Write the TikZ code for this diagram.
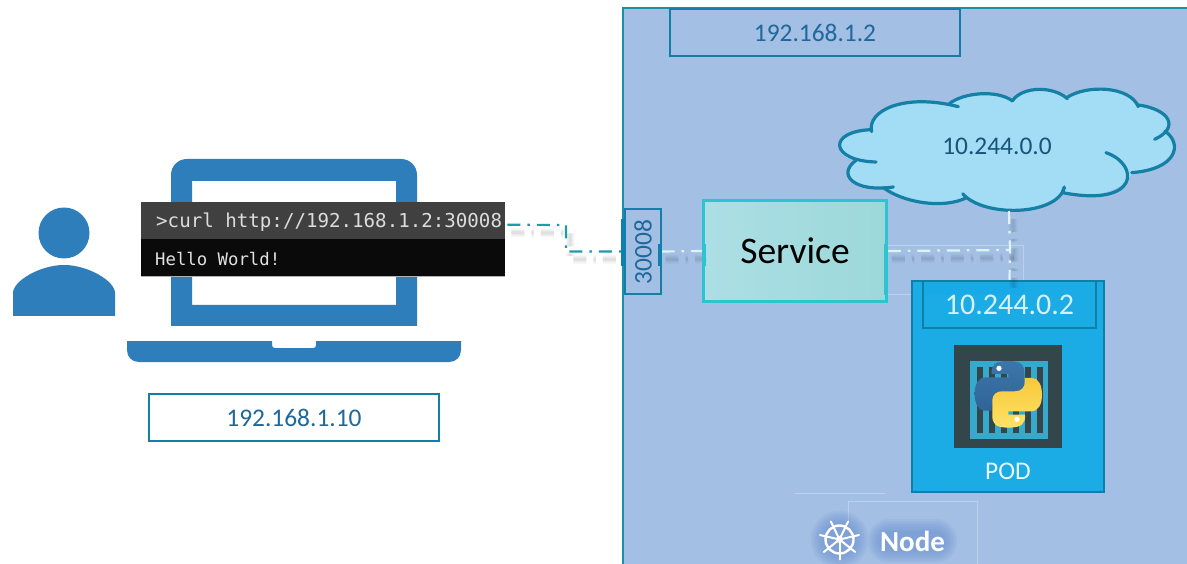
\documentclass[tikz,border=0pt]{standalone}
\usepackage{fontspec}
\setmainfont{Carlito}
\newfontfamily\termfont{DejaVu Sans Mono}
\usetikzlibrary{calc}
\definecolor{areablue}{HTML}{A3BFE4}
\definecolor{edgeteal}{HTML}{1C8FA8}
\definecolor{boxedge}{HTML}{137FA6}
\definecolor{iptext}{HTML}{1F689B}
\definecolor{lapblue}{HTML}{2E7EBB}
\definecolor{podblue}{HTML}{1BABE5}
\definecolor{podedge}{HTML}{0E80A8}
\definecolor{cloudfill}{HTML}{A3DDF5}
\definecolor{cloudedge}{HTML}{1580A6}
\definecolor{svcedge}{HTML}{2CC4CF}
\definecolor{handle}{HTML}{0F7FAE}
\definecolor{lineteal}{HTML}{1C9CA8}
\definecolor{linepale}{HTML}{DDF4F4}
\definecolor{ctrdark}{HTML}{33464C}
\definecolor{ctrteal}{HTML}{36A9CC}
\definecolor{glowblue}{HTML}{5F86CC}
\definecolor{termtop}{HTML}{404040}
\definecolor{termlow}{HTML}{0A0A0A}
\tikzset{
  ipbox/.style={draw=boxedge,line width=2pt,inner sep=0pt,text=iptext,font=\fontsize{25.4}{30}\selectfont},
  softshadow/.style={
    preaction={draw=black,opacity=.03,line width=9pt,dash pattern=on 13pt off 7pt on 2.5pt off 7pt,transform canvas={shift={(4pt,-8pt)}}},
    preaction={draw=black,opacity=.04,line width=6pt,dash pattern=on 13pt off 7pt on 2.5pt off 7pt,transform canvas={shift={(4pt,-8pt)}}},
    preaction={draw=black,opacity=.05,line width=3pt,dash pattern=on 13pt off 7pt on 2.5pt off 7pt,transform canvas={shift={(4pt,-8pt)}}}},
  dashline/.style={softshadow,line width=2.2pt,dash pattern=on 13pt off 7pt on 2.5pt off 7pt},
  faint/.style={draw=white,opacity=.28,line width=.8pt},
  glow/.style={fill=glowblue,opacity=.09,draw=none},
  cloudline/.style={draw=cloudedge,line width=3.2pt,line cap=round},
}
\begin{document}
\begin{tikzpicture}[x=1pt,y=-1pt]
\useasboundingbox (0,0) rectangle (1187,564);
\fill[white] (0,0) rectangle (1187,564);
% user
\fill[lapblue] (64,233) circle[radius=25.5];
\fill[lapblue] (13,316) -- (13,293) .. controls (13,281) and (40,265) .. (64,265) .. controls (88,265) and (115,281) .. (115,293) -- (115,316) -- cycle;
% laptop
\fill[lapblue,even odd rule] (171,326) -- (171,175) .. controls (171,166) and (178,159) .. (187,159) -- (401,159) .. controls (410,159) and (417,166) .. (417,175) -- (417,326) -- cycle
  (192,181) rectangle (396,305);
\fill[lapblue] (127,341) -- (272,341) -- (272,345) .. controls (272,347) and (273,348) .. (275,348) -- (313,348) .. controls (315,348) and (316,347) .. (316,345) -- (316,341) -- (461,341) -- (461,350) .. controls (461,357) and (456,362) .. (449,362) -- (139,362) .. controls (132,362) and (127,357) .. (127,350) -- cycle;
% terminal
\fill[black!30] (141,276) rectangle (505,277.5);
\node[fill=termlow,inner sep=0pt,minimum width=364pt,minimum height=37pt,anchor=north west] (term2) at (141,239) {};
\node[fill=termtop,inner sep=0pt,minimum width=364pt,minimum height=37pt,anchor=north west] (term1) at (141,202) {};
\node[anchor=west,inner sep=0pt,text={rgb,255:red,220;green,220;blue,220},font=\termfont\fontsize{19.15}{23}\selectfont] (curltext) at (156,222) {>curl http://192.168.1.2:30008};
\node[anchor=west,inner sep=0pt,text={rgb,255:red,225;green,225;blue,225},font=\termfont\fontsize{17.3}{21}\selectfont] (hello) at (155,259) {Hello World!};
% client ip
\node[ipbox,minimum width=290pt,minimum height=47pt] (clientip) at (294,417.5) {192.168.1.10};
% node area
\fill[areablue] (622,8) rectangle (1187,564);
\draw[edgeteal,line width=2pt] (1187,8.5) -- (622.5,8.5) -- (622.5,564);
\node[ipbox,minimum width=290pt,minimum height=47pt] (nodeip) at (815,32.5) {192.168.1.2};
% faint artefacts
\draw[faint] (887,245) rectangle (1023,294);
\draw[faint] (795,493) -- (885,493);
\draw[faint] (848,522) -- (848,501) -- (977,501) -- (977,564);
% cloud
\begin{scope}[shift={(820,81)},x=.3333pt,y=-.3333pt]
\fill[cloudfill] (155,150) .. controls (140,90) and (250,40) .. (390,68)
  .. controls (430,35) and (530,25) .. (578,58)
  .. controls (610,15) and (700,15) .. (742,50)
  .. controls (800,10) and (930,15) .. (955,75)
  .. controls (1020,85) and (1070,125) .. (1035,150)
  .. controls (1090,190) and (1070,265) .. (935,275)
  .. controls (925,325) and (810,360) .. (730,335)
  .. controls (690,405) and (500,410) .. (440,350)
  .. controls (370,380) and (250,360) .. (195,320)
  .. controls (110,335) and (50,280) .. (108,238)
  .. controls (40,230) and (30,160) .. (155,150) -- cycle;
\draw[cloudline] (155,152) .. controls (140,90) and (250,35) .. (415,77);
\draw[cloudline] (388,68) .. controls (430,35) and (530,25) .. (578,60);
\draw[cloudline] (578,58) .. controls (610,15) and (700,15) .. (742,53);
\draw[cloudline] (740,50) .. controls (800,10) and (930,15) .. (955,77);
\draw[cloudline] (955,72) .. controls (1050,85) and (1080,140) .. (1004,175);
\draw[cloudline] (1035,150) .. controls (1090,190) and (1070,265) .. (935,275);
\draw[cloudline] (858,215) .. controls (960,250) and (960,380) .. (728,335) -- (733,318);
\draw[cloudline] (733,320) .. controls (710,405) and (490,410) .. (428,338);
\draw[cloudline] (440,350) .. controls (370,385) and (250,365) .. (190,320);
\draw[cloudline] (220,318) .. controls (100,335) and (50,280) .. (108,238);
\draw[cloudline] (168,243) .. controls (30,240) and (20,150) .. (155,146);
\end{scope}
\node[text={rgb,255:red,22;green,84;blue,120},inner sep=0pt,font=\fontsize{25.4}{30}\selectfont] (cloudlabel) at (997,146) {10.244.0.0};
\coordinate (cloudbottom) at (1009,211);
% pod
\node[fill=podblue,draw=podedge,line width=2.5pt,minimum width=192pt,minimum height=211pt,inner sep=0pt] (pod) at (1008,386.5) {};
\fill[blue!40!cyan,opacity=.10] (923,281) rectangle (1024,295);
\node[fill=none,draw=podedge,line width=2.5pt,minimum width=173pt,minimum height=47pt,inner sep=0pt,text={rgb,255:red,214;green,241;blue,249},font=\fontsize{30}{34}\selectfont] (podip) at (1009.5,304.5) {10.244.0.2};
\node[fill=ctrdark,minimum width=108pt,minimum height=103pt,inner sep=0pt] (container) at (1008,396.5) {};
\node[fill=ctrteal,minimum width=78pt,minimum height=78pt,inner sep=0pt] (containerin) at (1009,400) {};
\foreach \bx in {976.5,988.5,1000.5,1012.5,1024.5,1036.5}
  \fill[ctrdark] (\bx,366.5) rectangle ++(6,66);
\begin{scope}[shift={(880,200)},x=.3333pt,y=-.3333pt]
\def\snake{(335,522) .. controls (333,495) and (345,483) .. (385,483) .. controls (425,483) and (433,495) .. (433,520) -- (433,565) .. controls (433,582) and (420,592) .. (405,592) -- (365,592) .. controls (345,592) and (335,605) .. (335,622) -- (335,632) -- (313,632) .. controls (295,632) and (284,610) .. (284,582) .. controls (284,552) and (295,532) .. (318,532) -- (385,532) -- (385,522) -- cycle}
\shade[top color={rgb,255:red,60;green,118;blue,170},bottom color={rgb,255:red,48;green,100;blue,150}] \snake;
\begin{scope}[rotate around={180:(385,583)}]
\shade[top color={rgb,255:red,248;green,200;blue,60},bottom color={rgb,255:red,255;green,226;blue,100}] \snake;
\end{scope}
\fill[white] (357,505) circle[radius=8];
\fill[white] (411,658) circle[radius=8];
\end{scope}
\node[text={rgb,255:red,232;green,248;blue,252},inner sep=0pt,font=\fontsize{25.4}{30}\selectfont] (podlabel) at (1008,471) {POD};
% port
\node[draw=boxedge,line width=2pt,minimum width=36pt,minimum height=85pt,inner sep=0pt] (port) at (642.5,251.5) {};
\node[rotate=90,inner sep=0pt,text=iptext,font=\fontsize{25.4}{30}\selectfont] (portlabel) at (643,252) {30008};
% service
\node[left color={rgb,255:red,172;green,223;blue,229},right color={rgb,255:red,156;green,216;blue,218},draw=svcedge,line width=2.5pt,minimum width=183pt,minimum height=101pt,inner sep=0pt,font=\fontsize{37.5}{44}\selectfont,text=black] (svc) at (795,251) {Service};
% connectors
\coordinate (curlstart) at ($(term1.east)+(2,4)$);
\coordinate (bendtop) at (566,225);
\coordinate (bendlow) at (566,251.5);
\coordinate (svcturn) at (1010,250);
\draw[lineteal,dashline] (curlstart) -- (bendtop) -- (bendlow) -- (port.west);
\draw[linepale,dashline] (port.east) -- (svc.west);
\draw[linepale,dashline] (svc.east) -- (svcturn);
\draw[linepale,dashline] (cloudbottom) -- (svcturn) -- (podip.north);
% handles
\fill[handle] (621,219) rectangle (626,266);
\fill[handle] (658,244) rectangle (662,266);
\fill[svcedge] (702,244) rectangle (706,266);
\fill[svcedge] (884,244) rectangle (888,295);
% node label with glow
\foreach \gr in {29,27,25,23,21,19,17}
  \fill[glow] (839.5,539.5) circle[radius=\gr];
\foreach \gr/\gs in {22/45,20/43,18/41,16/39,14/37,12/35,10/33}
  \fill[glow,rounded corners=\gr pt] ($(912.5,541)+(-\gs,-\gr)$) rectangle ($(912.5,541)+(\gs,\gr)$);
\begin{scope}[white]
\draw[line width=2.4pt] (839.5,539.5) circle[radius=14];
\foreach \a in {90,141.4,192.9,244.3,295.7,347.1,38.6}
  \draw[line width=2pt,line cap=round] (839.5,539.5) -- ++(\a:20);
\fill (839.5,539.5) circle[radius=3.5];
\end{scope}
\node[text=white,inner sep=0pt,font=\bfseries\fontsize{29}{34}\selectfont] (nodelabel) at (912.5,541) {Node};
\end{tikzpicture}
\end{document}
